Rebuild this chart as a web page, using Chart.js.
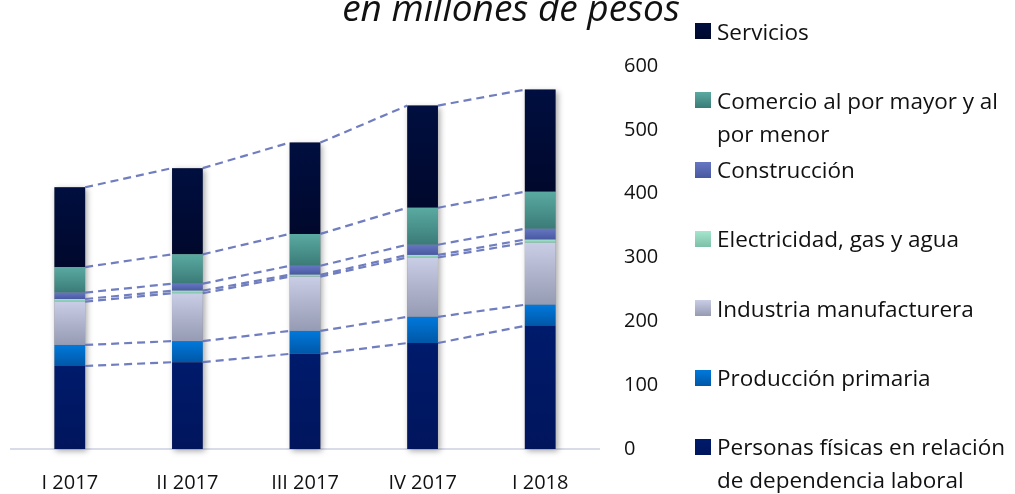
<!DOCTYPE html>
<html>
<head>
<meta charset="utf-8">
<script src="https://cdn.jsdelivr.net/npm/chart.js@4.4.1/dist/chart.umd.min.js"></script>
<style>
  body { margin: 0; background: #fff; }
  #wrap { position: relative; width: 1015px; height: 494px; overflow: hidden; }
  #legend { position: absolute; left: 0; top: 0; font-family: "Open Sans", sans-serif; font-size: 22.5px; color: #111; }
  .item { position: absolute; left: 695px; width: 320px; }
  .box { position: absolute; left: 0; width: 16px; height: 16px; }
  .txt { position: absolute; left: 22px; line-height: 33px; white-space: nowrap; }
</style>
</head>
<body>
<div id="wrap">
  <canvas id="myChart"></canvas>
  <div id="legend"></div>
</div>
<script>
// trimestres
const categorias = ["I 2017", "II 2017", "III 2017", "IV 2017", "I 2018"];

// valores en millones de pesos, de abajo hacia arriba en la pila
const personas = [130, 136, 149, 166, 193];
const produccion = [33, 33, 36, 41, 33];
const industria = [68, 75, 85, 93, 97];
const electricidad = [4, 4, 3, 4, 5];
const construccion = [10, 11, 14, 16, 17];
const comercio = [40, 46, 50, 58, 58];
const servicios = [125, 135, 143, 160, 160];

const yTicks = [0, 100, 200, 300, 400, 500, 600];

const nombres = [
  ["Personas físicas en relación", "de dependencia laboral"],
  ["Producción primaria"],
  ["Industria manufacturera"],
  ["Electricidad, gas y agua"],
  ["Construcción"],
  ["Comercio al por mayor y al", "por menor"],
  ["Servicios"]
];
const series = [personas, produccion, industria, electricidad, construccion, comercio, servicios];
const colores = [
  ["#001B6C", "#00155C"],
  ["#0079DC", "#0057A6"],
  ["#C9CDE6", "#959BB2"],
  ["#A4E6CE", "#7DBFA7"],
  ["#6676C2", "#4858A0"],
  ["#5AAAA2", "#3B7B77"],
  ["#000F40", "#00082C"]
];

function degradado(k) {
  return function (ctx) {
    const chart = ctx.chart;
    if (ctx.type !== "data" || !chart.chartArea || !chart.scales.y) return colores[k][0];
    const i = ctx.dataIndex;
    let base = 0;
    for (let j = 0; j < k; j++) base += series[j][i];
    const y = chart.scales.y;
    const y0 = y.getPixelForValue(base + series[k][i]);
    const y1 = y.getPixelForValue(base);
    if (!isFinite(y0) || !isFinite(y1) || y0 === y1) return colores[k][0];
    const g = chart.ctx.createLinearGradient(0, y0, 0, y1);
    g.addColorStop(0, colores[k][0]);
    g.addColorStop(1, colores[k][1]);
    return g;
  };
}

// sombra suave detras de cada columna
const sombra = {
  id: "sombra",
  beforeDatasetsDraw(chart) {
    const ctx = chart.ctx;
    const bottom = chart.getDatasetMeta(0).data;
    const top = chart.getDatasetMeta(series.length - 1).data;
    ctx.save();
    ctx.shadowColor = "rgba(0,0,0,0.35)";
    ctx.shadowBlur = 6;
    ctx.shadowOffsetX = 2;
    ctx.shadowOffsetY = 2;
    ctx.fillStyle = "#888";
    for (let i = 0; i < top.length; i++) {
      const w = top[i].width;
      ctx.fillRect(top[i].x - w / 2, top[i].y, w, bottom[i].base - top[i].y);
    }
    ctx.restore();
  }
};

// lineas de serie punteadas entre columnas
const lineas = {
  id: "lineas",
  afterDatasetsDraw(chart) {
    const ctx = chart.ctx;
    ctx.save();
    ctx.strokeStyle = "rgba(96,112,184,0.9)";
    ctx.lineWidth = 2.2;
    ctx.setLineDash([8, 5]);
    for (let d = 0; d < series.length; d++) {
      const bars = chart.getDatasetMeta(d).data;
      for (let i = 0; i < bars.length - 1; i++) {
        const a = bars[i], b = bars[i + 1];
        ctx.beginPath();
        ctx.moveTo(a.x + a.width / 2, a.y);
        ctx.lineTo(b.x - b.width / 2, b.y);
        ctx.stroke();
      }
    }
    ctx.restore();
  }
};

const titulo = {
  id: "titulo",
  afterDraw(chart) {
    const ctx = chart.ctx;
    ctx.save();
    ctx.font = 'italic 37px "Open Sans"';
    ctx.fillStyle = "#111";
    ctx.textAlign = "center";
    ctx.textBaseline = "alphabetic";
    ctx.fillText("en millones de pesos", 511, 21);
    ctx.restore();
  }
};

const ctx = document.getElementById("myChart");

new Chart(ctx, {
  type: "bar",
  data: {
    labels: categorias,
    datasets: series.map(function (s, k) {
      return {
        label: nombres[k].join(" "),
        data: s,
        backgroundColor: degradado(k),
        borderWidth: 0,
        barPercentage: 0.9,
        categoryPercentage: 0.29
      };
    })
  },
  options: {
    responsive: true,
    maintainAspectRatio: false,
    animation: false,
    layout: { padding: { left: 11, top: 66, right: 0, bottom: 0 } },
    scales: {
      x: {
        stacked: true,
        grid: { display: false },
        border: { display: true, color: "#D8DBE8", width: 2 },
        ticks: {
          color: "#111",
          padding: 14,
          font: { size: 20, family: "Open Sans" }
        },
        afterFit: function (s) { s.height = 45; }
      },
      y: {
        stacked: true,
        position: "right",
        min: 0,
        max: 600,
        afterBuildTicks: function (s) {
          s.ticks = yTicks.map(function (v) { return { value: v }; });
        },
        grid: { display: false, drawTicks: false },
        border: { display: false },
        ticks: {
          color: "#111",
          padding: 25,
          font: { size: 20, family: "Open Sans" }
        },
        afterFit: function (s) { s.width = 416; }
      }
    },
    plugins: {
      legend: { display: false },
      tooltip: { enabled: false }
    }
  },
  plugins: [sombra, lineas, titulo]
});

// leyenda en orden inverso, como en el original
const legend = document.getElementById("legend");
for (let n = 0; n < series.length; n++) {
  const k = series.length - 1 - n;
  const c = 31 + n * 69.3;
  const item = document.createElement("div");
  item.className = "item";
  item.style.top = (c - 16.5) + "px";
  const box = document.createElement("div");
  box.className = "box";
  box.style.top = "8.5px";
  box.style.background = "linear-gradient(" + colores[k][0] + "," + colores[k][1] + ")";
  const txt = document.createElement("div");
  txt.className = "txt";
  txt.innerHTML = nombres[k].join("<br>");
  item.appendChild(box);
  item.appendChild(txt);
  legend.appendChild(item);
}
</script>
</body>
</html>
